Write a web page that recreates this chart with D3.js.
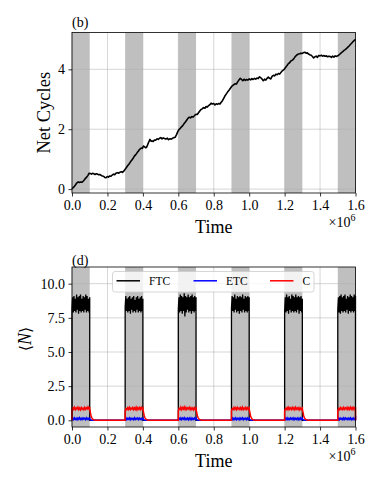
<!DOCTYPE html>
<html>
<head>
<meta charset="utf-8">
<script src="https://cdn.jsdelivr.net/npm/d3@7"></script>
<style>
  body { margin: 0; background: #fff; }
  svg { font-family: "Liberation Serif", "Times New Roman", serif; }
  .axis text { font-size: 14px; fill: #000; font-family: "Liberation Serif", "Times New Roman", serif; }
  .axis path, .axis line { stroke: #000; stroke-width: 0.8; }
</style>
</head>
<body>
<div id="chart"></div>
<script>
// Time in units of 1e6
const onStarts = [0.0, 0.3, 0.6, 0.9, 1.2, 1.5];
const onLength = 0.1;
const xTicks = [0.0, 0.2, 0.4, 0.6, 0.8, 1.0, 1.2, 1.4, 1.6];
const topYTicks = [0, 2, 4];
const botYTicks = [0.0, 2.5, 5.0, 7.5, 10.0];

// panel (b): net cycles
const ncTime = [0.000,0.008,0.015,0.022,0.028,0.035,0.042,0.050,0.057,0.064,0.070,0.076,0.083,0.090,0.097,0.104,0.110,0.116,0.123,0.130,0.137,0.144,0.150,0.157,0.164,0.171,0.178,0.185,0.192,0.199,0.206,0.213,0.220,0.227,0.234,0.241,0.248,0.255,0.262,0.270,0.278,0.285,0.292,0.300,0.308,0.315,0.322,0.330,0.338,0.345,0.352,0.360,0.368,0.375,0.382,0.390,0.397,0.404,0.410,0.416,0.422,0.428,0.434,0.440,0.446,0.452,0.458,0.465,0.472,0.480,0.487,0.494,0.501,0.508,0.515,0.522,0.530,0.538,0.545,0.552,0.560,0.568,0.575,0.582,0.590,0.597,0.604,0.611,0.618,0.625,0.632,0.640,0.648,0.655,0.662,0.669,0.676,0.684,0.692,0.700,0.707,0.714,0.721,0.728,0.735,0.742,0.750,0.757,0.764,0.771,0.778,0.785,0.792,0.800,0.807,0.814,0.821,0.828,0.835,0.842,0.850,0.857,0.864,0.871,0.878,0.885,0.892,0.900,0.907,0.914,0.921,0.928,0.935,0.942,0.950,0.957,0.964,0.971,0.978,0.985,0.992,1.000,1.008,1.015,1.022,1.030,1.037,1.044,1.051,1.058,1.065,1.072,1.080,1.087,1.094,1.101,1.108,1.115,1.122,1.130,1.137,1.144,1.151,1.158,1.165,1.172,1.180,1.187,1.194,1.200,1.207,1.214,1.221,1.228,1.235,1.242,1.250,1.257,1.264,1.271,1.278,1.285,1.292,1.300,1.307,1.314,1.321,1.328,1.335,1.342,1.350,1.357,1.364,1.371,1.378,1.385,1.392,1.400,1.407,1.414,1.421,1.428,1.435,1.442,1.450,1.457,1.464,1.471,1.478,1.485,1.492,1.500,1.507,1.514,1.521,1.528,1.535,1.542,1.550,1.557,1.564,1.571,1.578,1.585,1.592,1.600];
const ncValue = [0.00,0.06,0.10,0.16,0.21,0.24,0.22,0.24,0.23,0.27,0.31,0.36,0.40,0.46,0.53,0.52,0.50,0.53,0.51,0.49,0.51,0.50,0.48,0.49,0.46,0.44,0.43,0.39,0.38,0.42,0.40,0.44,0.43,0.47,0.50,0.48,0.53,0.55,0.53,0.56,0.58,0.56,0.60,0.66,0.73,0.79,0.84,0.91,0.97,1.03,1.10,1.15,1.22,1.27,1.33,1.37,1.36,1.44,1.41,1.38,1.41,1.50,1.58,1.66,1.60,1.61,1.59,1.64,1.63,1.68,1.66,1.70,1.72,1.68,1.71,1.69,1.67,1.70,1.65,1.68,1.67,1.70,1.72,1.73,1.82,1.92,1.99,2.03,2.08,2.12,2.18,2.24,2.31,2.37,2.40,2.38,2.42,2.41,2.46,2.50,2.49,2.55,2.61,2.66,2.68,2.72,2.70,2.76,2.74,2.79,2.82,2.87,2.84,2.86,2.81,2.85,2.83,2.86,2.84,2.90,2.96,3.04,3.12,3.18,3.24,3.29,3.35,3.42,3.46,3.49,3.52,3.51,3.58,3.64,3.70,3.66,3.62,3.67,3.63,3.66,3.64,3.68,3.65,3.69,3.66,3.70,3.67,3.71,3.69,3.75,3.72,3.68,3.62,3.67,3.64,3.70,3.74,3.70,3.68,3.77,3.80,3.78,3.84,3.82,3.86,3.84,3.90,3.95,3.98,4.02,4.08,4.13,4.19,4.22,4.28,4.30,4.34,4.40,4.45,4.49,4.51,4.52,4.54,4.53,4.56,4.57,4.54,4.55,4.51,4.49,4.47,4.43,4.38,4.42,4.44,4.40,4.46,4.45,4.47,4.44,4.46,4.44,4.45,4.42,4.44,4.43,4.40,4.44,4.41,4.45,4.43,4.45,4.48,4.52,4.56,4.59,4.63,4.66,4.70,4.74,4.78,4.83,4.87,4.92,4.96,5.00];

// panel (d): occupation during each "on" window (samples evenly spread over the window)
const ftcOn = [
  [8.2,9.0,7.9,9.1,8.0,8.9,7.9,9.2,8.1,9.0,7.8,9.1,8.0,9.2,7.9,8.9,8.0,9.1,7.9,9.0,8.1,9.2,7.9,9.1,8.0,8.9,7.9,9.0],
  [8.3,9.1,8.0,8.9,7.9,9.0,8.0,9.1,7.8,8.9,8.1,9.0,7.9,9.1,8.0,8.8,7.9,9.0,8.1,9.1,7.9,8.9,8.0,9.0,7.9,9.1,8.0,8.9],
  [8.1,9.0,7.9,9.2,8.0,9.1,7.8,9.0,8.0,9.3,7.6,9.1,7.9,9.0,8.1,9.2,7.9,9.0,8.0,9.1,7.8,9.2,8.0,9.0,7.9,9.1,8.0,9.0],
  [8.2,9.1,8.0,9.0,7.9,9.2,8.1,8.9,7.9,9.1,8.0,9.0,7.8,9.1,8.0,9.0,7.9,9.2,8.1,8.9,7.9,9.1,8.0,9.0,7.9,9.1,8.0,9.0],
  [8.0,9.0,7.9,9.2,8.0,9.0,7.8,9.1,8.1,8.9,7.9,9.2,8.0,9.1,7.9,9.0,8.0,9.2,7.9,9.0,8.1,9.1,7.8,9.0,8.0,9.1,7.9,8.9],
  [8.1,9.0,7.9,9.1,7.8,9.2,8.0,9.0,7.9,9.1,8.0,9.2,7.9,8.9,8.1,9.1,7.8,9.0,8.0,9.2,7.9,9.1,8.0,9.0,7.9,9.2,8.0,9.1]
];
const etcOn = [
  [0.08,0.16,0.05,0.18,0.07,0.15,0.04,0.17,0.08,0.19,0.06,0.14,0.05,0.17,0.09,0.15,0.05,0.18,0.07,0.16,0.06,0.14],
  [0.06,0.17,0.05,0.15,0.08,0.18,0.04,0.16,0.07,0.14,0.05,0.19,0.06,0.15,0.08,0.17,0.05,0.16,0.07,0.15,0.05,0.13],
  [0.07,0.15,0.06,0.18,0.05,0.16,0.08,0.19,0.05,0.15,0.07,0.17,0.04,0.16,0.06,0.18,0.05,0.15,0.07,0.17,0.06,0.14],
  [0.08,0.17,0.05,0.16,0.06,0.18,0.05,0.15,0.07,0.17,0.04,0.16,0.08,0.18,0.05,0.15,0.07,0.16,0.05,0.17,0.06,0.13],
  [0.06,0.16,0.07,0.18,0.05,0.15,0.06,0.17,0.08,0.16,0.05,0.18,0.06,0.15,0.07,0.17,0.04,0.16,0.06,0.18,0.05,0.14],
  [0.07,0.18,0.05,0.16,0.07,0.15,0.05,0.18,0.06,0.17,0.08,0.15,0.05,0.16,0.07,0.18,0.05,0.15,0.06,0.17,0.07,0.15]
];
const cOn = [
  [0.78,0.92,0.80,0.95,0.78,0.90,0.82,0.96,0.79,0.91,0.77,0.93,0.81,0.89,0.78,0.94,0.80,0.92,0.83,0.98,0.85,0.97],
  [0.65,0.85,0.78,0.92,0.80,0.95,0.79,0.90,0.82,0.94,0.78,0.91,0.80,0.96,0.77,0.92,0.81,0.93,0.79,0.95,0.82,0.90],
  [0.68,0.88,0.80,0.96,0.78,0.93,0.82,0.98,0.80,0.94,0.79,0.91,0.83,0.95,0.78,0.92,0.80,0.90,0.77,0.93,0.79,0.88],
  [0.70,0.86,0.79,0.94,0.80,0.92,0.78,0.95,0.82,0.91,0.79,0.93,0.80,0.96,0.78,0.90,0.81,0.94,0.79,0.92,0.80,0.89],
  [0.66,0.87,0.80,0.93,0.78,0.95,0.81,0.90,0.79,0.94,0.80,0.92,0.78,0.96,0.82,0.91,0.79,0.93,0.77,0.90,0.80,0.88],
  [0.70,0.86,0.78,0.93,0.81,0.90,0.79,0.94,0.80,0.91,0.82,0.95,0.79,0.92,0.80,0.96,0.81,0.93,0.79,0.94,0.82,0.95]
];
// relaxation after each window ends
const decayTime = [0.000, 0.004, 0.008, 0.012, 0.017, 0.022, 0.028, 0.036];
const cDecay = [0.85, 0.55, 0.32, 0.18, 0.09, 0.04, 0.015, 0.0];
const etcDecay = [0.10, 0.04, 0.015, 0.005, 0.0, 0.0, 0.0, 0.0];

// Layout
const svgWidth = 382, svgHeight = 486;
const left = 72, right = 355.5;
const topPanel = { top: 32.5, bottom: 193 };
const botPanel = { top: 267, bottom: 427 };

const svg = d3.select("#chart").append("svg")
  .attr("width", svgWidth).attr("height", svgHeight);

const x = d3.scaleLinear().domain([0, 1.6]).range([left, right]);
const yTop = d3.scaleLinear().domain([-0.13, 5.23]).range([topPanel.bottom, topPanel.top]);
const yBot = d3.scaleLinear().domain([-0.49, 11.22]).range([botPanel.bottom, botPanel.top]);

// build the full series for panel (d)
function buildSeries(onVals, decay, dropSharp) {
  const pts = [];
  onStarts.forEach((s, k) => {
    const vals = onVals[k];
    const n = vals.length;
    pts.push([s, 0]);
    vals.forEach((v, i) => pts.push([s + onLength * i / (n - 1), v]));
    const e = s + onLength;
    if (dropSharp) {
      pts.push([e, 0]);
    } else {
      decay.forEach((v, i) => pts.push([e + decayTime[i], v]));
    }
    const next = Math.min(s + 0.3, 1.6);
    pts.push([next, 0]);
  });
  return pts.filter(p => p[0] <= 1.6);
}

function drawPanel(panel, y, yTicks) {
  const g = svg.append("g");
  // shaded windows
  g.selectAll("rect.span").data(onStarts).enter().append("rect")
    .attr("x", d => x(d))
    .attr("width", d => x(d + onLength) - x(d))
    .attr("y", panel.top)
    .attr("height", panel.bottom - panel.top)
    .attr("fill", "#bfbfbf");
  // grid
  g.selectAll("line.gx").data(xTicks).enter().append("line")
    .attr("x1", d => x(d)).attr("x2", d => x(d))
    .attr("y1", panel.top).attr("y2", panel.bottom)
    .attr("stroke", "#b0b0b0").attr("stroke-width", 0.8).attr("opacity", 0.65);
  g.selectAll("line.gy").data(yTicks).enter().append("line")
    .attr("x1", left).attr("x2", right)
    .attr("y1", d => y(d)).attr("y2", d => y(d))
    .attr("stroke", "#b0b0b0").attr("stroke-width", 0.8).attr("opacity", 0.65);
  return g;
}

function drawAxes(panel, y, yTicks, yFmt) {
  svg.append("g").attr("class", "axis")
    .attr("transform", `translate(0,${panel.bottom})`)
    .call(d3.axisBottom(x).tickValues(xTicks).tickFormat(d3.format(".1f")).tickSize(3.5).tickPadding(3.5))
    .call(a => a.select(".domain").remove());
  svg.append("g").attr("class", "axis")
    .attr("transform", `translate(${left},0)`)
    .call(d3.axisLeft(y).tickValues(yTicks).tickFormat(yFmt).tickSize(3.5).tickPadding(3.5))
    .call(a => a.select(".domain").remove());
  svg.append("rect")
    .attr("x", left).attr("y", panel.top)
    .attr("width", right - left).attr("height", panel.bottom - panel.top)
    .attr("fill", "none").attr("stroke", "#000").attr("stroke-width", 0.8);

  const xl = svg.append("text")
    .attr("x", right).attr("y", panel.bottom + 34)
    .attr("text-anchor", "end").attr("font-size", 14);
  xl.append("tspan").text("×10");
  xl.append("tspan").attr("dy", -6).attr("font-size", 10).text("6");

  svg.append("text")
    .attr("x", (left + right) / 2).attr("y", panel.bottom + 40)
    .attr("text-anchor", "middle").attr("font-size", 18)
    .text("Time");
}

// ---- panel (b)
const gTop = drawPanel(topPanel, yTop, topYTicks);
gTop.append("path")
  .datum(d3.zip(ncTime, ncValue))
  .attr("fill", "none").attr("stroke", "#000").attr("stroke-width", 1.6)
  .attr("stroke-linejoin", "round")
  .attr("d", d3.line().x(d => x(d[0])).y(d => yTop(d[1])));
drawAxes(topPanel, yTop, topYTicks, d3.format("d"));

svg.append("text")
  .attr("transform", `translate(50,${(topPanel.top + topPanel.bottom) / 2}) rotate(-90)`)
  .attr("text-anchor", "middle").attr("font-size", 18.5)
  .text("Net Cycles");
svg.append("text").attr("x", left).attr("y", 27).attr("font-size", 14).text("(b)");

// ---- panel (d)
const gBot = drawPanel(botPanel, yBot, botYTicks);
const lineBot = d3.line().x(d => x(d[0])).y(d => yBot(d[1]));
const series = [
  { name: "FTC", color: "#000", width: 1.3, pts: buildSeries(ftcOn, null, true) },
  { name: "ETC", color: "#0000ff", width: 1.5, pts: buildSeries(etcOn, etcDecay, false) },
  { name: "C", color: "#ff0000", width: 1.5, pts: buildSeries(cOn, cDecay, false) }
];
series.forEach(s => {
  gBot.append("path")
    .datum(s.pts)
    .attr("fill", "none").attr("stroke", s.color).attr("stroke-width", s.width)
    .attr("d", lineBot);
});
drawAxes(botPanel, yBot, botYTicks, d3.format(".1f"));

const nl = svg.append("text")
  .attr("transform", `translate(31,${(botPanel.top + botPanel.bottom) / 2 - 8}) rotate(-90)`)
  .attr("text-anchor", "middle").attr("font-size", 18);
nl.append("tspan").attr("font-family", "DejaVu Serif").attr("font-size", 16).text("⟨");
nl.append("tspan").attr("font-style", "italic").text("N");
nl.append("tspan").attr("font-family", "DejaVu Serif").attr("font-size", 16).text("⟩");
svg.append("text").attr("x", left).attr("y", 265).attr("font-size", 14).text("(d)");

// legend
const legend = svg.append("g");
legend.append("rect")
  .attr("x", 112.5).attr("y", 271.5).attr("width", 201.5).attr("height", 20.5)
  .attr("rx", 2.5)
  .attr("fill", "#fff").attr("fill-opacity", 0.8)
  .attr("stroke", "#cccccc").attr("stroke-width", 0.8);
const legendX = [116.5, 193.5, 270];
series.forEach((s, i) => {
  legend.append("line")
    .attr("x1", legendX[i]).attr("x2", legendX[i] + 23.5)
    .attr("y1", 280.8).attr("y2", 280.8)
    .attr("stroke", s.color).attr("stroke-width", 1.5);
  legend.append("text")
    .attr("x", legendX[i] + 32.5).attr("y", 285)
    .attr("font-size", 11.5)
    .text(s.name);
});
</script>
</body>
</html>
